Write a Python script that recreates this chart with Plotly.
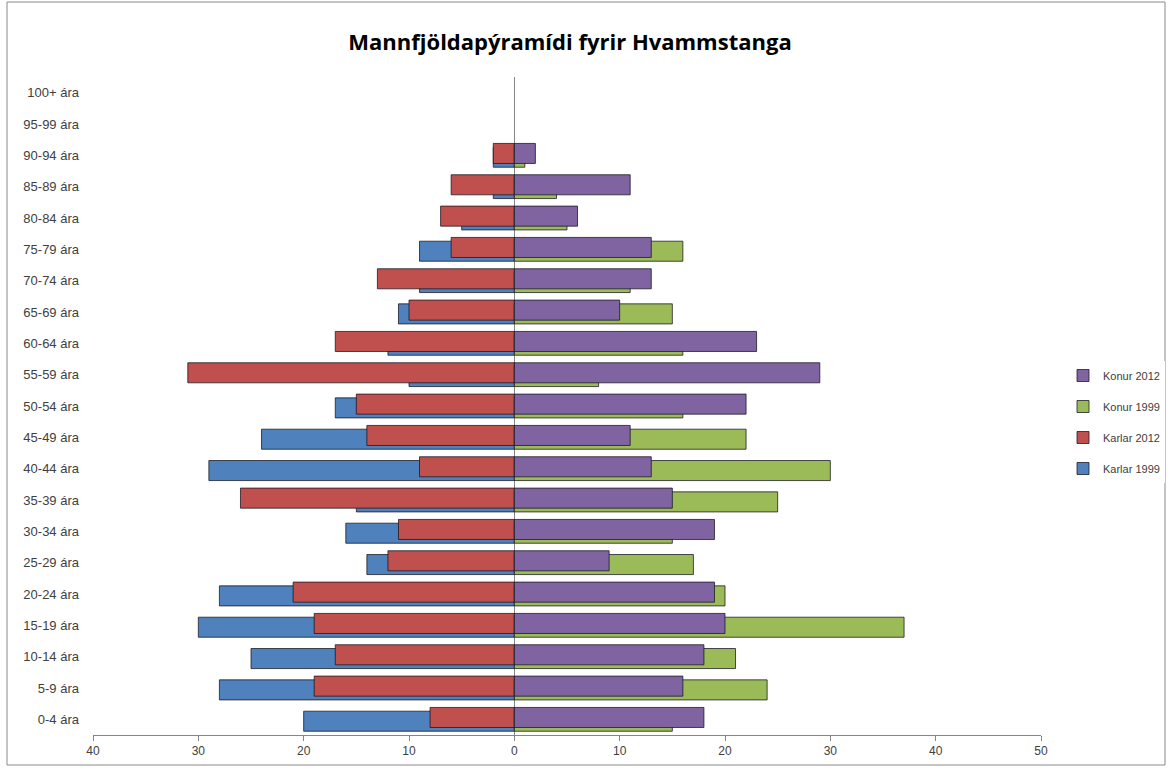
import plotly.graph_objects as go

# aldurshópar, neðst -> efst
aldur = ['0-4 ára', '5-9 ára', '10-14 ára', '15-19 ára', '20-24 ára', '25-29 ára',
         '30-34 ára', '35-39 ára', '40-44 ára', '45-49 ára', '50-54 ára', '55-59 ára',
         '60-64 ára', '65-69 ára', '70-74 ára', '75-79 ára', '80-84 ára', '85-89 ára',
         '90-94 ára', '95-99 ára', '100+ ára']

karlar_1999 = [20, 28, 25, 30, 28, 14, 16, 15, 29, 24, 17, 10, 12, 11, 9, 9, 5, 2, 2, 0, 0]
karlar_2012 = [8, 19, 17, 19, 21, 12, 11, 26, 9, 14, 15, 31, 17, 10, 13, 6, 7, 6, 2, 0, 0]
konur_1999 = [15, 24, 21, 37, 20, 17, 15, 25, 30, 22, 16, 8, 16, 15, 11, 16, 5, 4, 1, 0, 0]
konur_2012 = [18, 16, 18, 20, 19, 9, 19, 15, 13, 11, 22, 29, 23, 10, 13, 13, 6, 11, 2, 0, 0]

x_ticks = [-40, -30, -20, -10, 0, 10, 20, 30, 40, 50]
x_tick_text = ['40', '30', '20', '10', '0', '10', '20', '30', '40', '50']

BAR_W = 0.64
SHIFT = 0.12

# (nafn, x-gildi, hrágildi, litur, hliðrun, röð í skýringu)
series = [
    ('Karlar 1999', [-v for v in karlar_1999], karlar_1999, '#4F81BD', -BAR_W / 2 - SHIFT / 2, 4),
    ('Karlar 2012', [-v for v in karlar_2012], karlar_2012, '#C0504D', -BAR_W / 2 + SHIFT / 2, 3),
    ('Konur 1999', konur_1999, konur_1999, '#9BBB59', -BAR_W / 2 - SHIFT / 2, 2),
    ('Konur 2012', konur_2012, konur_2012, '#8064A2', -BAR_W / 2 + SHIFT / 2, 1),
]

fig = go.Figure()
for name, xs, raw, color, off, rank in series:
    fig.add_trace(go.Bar(
        y=aldur, x=xs, orientation='h', name=name,
        legendgroup=name, legendrank=rank,
        width=BAR_W, offset=off,
        marker=dict(color=color,
                    line=dict(color='rgba(20,20,30,0.75)',
                              width=[1 if v else 0 for v in raw])),
        customdata=raw,
        hovertemplate='%{y}: %{customdata}<extra>' + name + '</extra>',
    ))

W, H = 1171, 770
L, R, T, B = 93, 130, 77, 35
pw, ph = W - L - R, H - T - B

# ytri rammi um myndina
fig.add_shape(type='rect', xref='paper', yref='paper',
              x0=(7 - L) / pw, x1=(1165 - L) / pw,
              y0=(H - B - 765) / ph, y1=(H - B - 2) / ph,
              line=dict(color='#8a8a8a', width=1), fillcolor='rgba(0,0,0,0)', layer='below')

fig.update_layout(
    width=W, height=H,
    barmode='overlay',
    title=dict(text='<b>Mannfjöldapýramídi fyrir Hvammstanga</b>',
               x=570 / W, xanchor='center', y=1 - 42 / H, yanchor='middle',
               font=dict(family='Open Sans, Arial', size=22, color='#000000')),
    margin=dict(l=L, r=R, t=T, b=B, autoexpand=False),
    paper_bgcolor='white', plot_bgcolor='white',
    font=dict(family='Liberation Sans Narrow, Liberation Sans, Arial', size=11, color='#404040'),
    xaxis=dict(range=[-40, 50], tickvals=x_ticks, ticktext=x_tick_text,
               showgrid=False, showline=True, linecolor='#868686', linewidth=1,
               ticks='outside', ticklen=5, tickcolor='#868686',
               zeroline=True, zerolinecolor='#868686', zerolinewidth=1,
               tickfont=dict(size=12, color='#404040'), automargin=False),
    yaxis=dict(type='category', categoryorder='array', categoryarray=aldur,
               showgrid=False, showline=False, ticks='', ticklabelstandoff=13,
               tickfont=dict(size=13, color='#404040'), automargin=False),
    legend=dict(x=(1063 - L) / pw, xanchor='left', y=(H - B - 422) / ph, yanchor='middle',
                traceorder='grouped', tracegroupgap=12,
                font=dict(size=11, color='#404040'), itemwidth=30),
    showlegend=True,
)

# body-spássían burt svo myndin byrji í horninu
fig.write_html('out.html', config={'displayModeBar': False},
               post_script="document.body.style.margin='0';")
